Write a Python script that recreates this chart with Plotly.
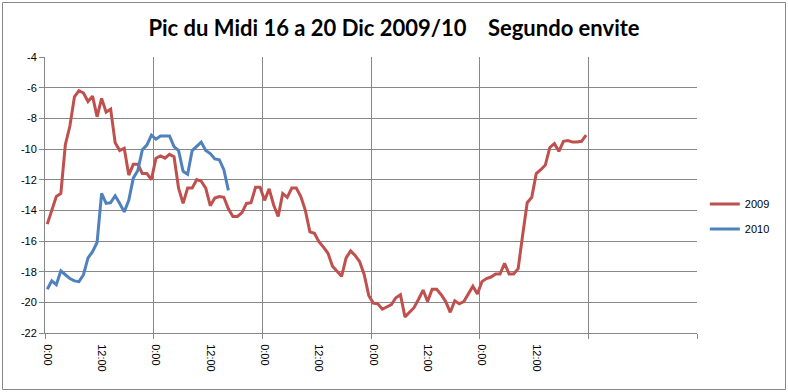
import plotly.graph_objects as go

# hourly readings, index = hour since 16 Dec 0:00
temp_2009 = [
    -14.9, -14.0, -13.1, -12.9, -9.7, -8.5, -6.6, -6.2, -6.35, -6.9,
    -6.55, -7.9, -6.7, -7.6, -7.4, -9.6, -10.1, -9.95, -11.7, -11.0,
    -11.0, -11.6, -11.6, -12.0, -10.6, -10.45, -10.6, -10.35, -10.5, -12.55,
    -13.55, -12.55, -12.55, -12.0, -12.1, -12.55, -13.7, -13.2, -13.1, -13.15,
    -13.9, -14.4, -14.4, -14.15, -13.55, -13.5, -12.5, -12.5, -13.35, -12.6,
    -13.65, -14.4, -12.9, -13.15, -12.55, -12.55, -13.1, -14.0, -15.4, -15.5,
    -16.05, -16.4, -16.8, -17.65, -17.95, -18.3, -17.1, -16.65, -16.95, -17.35,
    -18.2, -19.55, -20.05, -20.1, -20.45, -20.3, -20.15, -19.7, -19.5, -20.95,
    -20.65, -20.35, -19.8, -19.2, -19.95, -19.15, -19.15, -19.5, -19.95, -20.65,
    -19.9, -20.1, -19.95, -19.4, -18.95, -19.45, -18.65, -18.45, -18.35, -18.15,
    -18.15, -17.45, -18.15, -18.15, -17.8, -15.6, -13.5, -13.15, -11.6, -11.35,
    -11.05, -9.9, -9.65, -10.15, -9.5, -9.45, -9.55, -9.55, -9.5, -9.1,
]
temp_2010 = [
    -19.15, -18.6, -18.85, -17.95, -18.2, -18.45, -18.6, -18.65, -18.2, -17.1,
    -16.7, -16.1, -12.9, -13.55, -13.5, -13.05, -13.55, -14.1, -13.35, -11.9,
    -11.4, -10.05, -9.75, -9.1, -9.36, -9.15, -9.15, -9.15, -9.85, -10.1,
    -11.45, -11.65, -10.1, -9.85, -9.55, -10.1, -10.3, -10.65, -10.7, -11.35,
    -12.7,
]
tick_hours = [0, 12, 24, 36, 48, 60, 72, 84, 96, 108]
tick_labels = ["0:00", "12:00", "0:00", "12:00", "0:00", "12:00", "0:00", "12:00", "0:00", "12:00"]
day_bounds = [-0.5, 23.5, 47.5, 71.5, 95.5, 119.5, 143.5]
y_ticks = [-22, -20, -18, -16, -14, -12, -10, -8, -6, -4]
y_labels = ["-22", "-20", "-18", "-16", "-14", "-12", "-10", "-8", "-6", "-4"]

title = "Pic du Midi 16 a 20 Dic 2009/10\u00a0\u00a0\u00a0\u00a0Segundo envite"

grid = "#878787"
fig = go.Figure()
fig.add_trace(go.Scatter(x=list(range(len(temp_2009))), y=temp_2009, mode="lines",
                         name="2009", line=dict(color="#C0504D", width=3),
                         legendgroup="a"))
fig.add_trace(go.Scatter(x=list(range(len(temp_2010))), y=temp_2010, mode="lines",
                         name="2010", line=dict(color="#4F81BD", width=3),
                         legendgroup="b"))

fig.update_layout(
    width=788, height=392,
    margin=dict(l=45, r=91, t=57, b=59),
    paper_bgcolor="white", plot_bgcolor="white",
    title=dict(text=title, x=0.5, xanchor="center", xref="container", y=0.928, yanchor="middle",
               font=dict(family="Lato", size=22, color="black", weight="bold")),
    font=dict(family="Liberation Sans", size=11, color="black"),
    legend=dict(x=1.012, xanchor="left", y=0.422, yanchor="middle",
                traceorder="grouped", tracegroupgap=6,
                font=dict(family="Liberation Sans", size=11, color="black"),
                bgcolor="rgba(0,0,0,0)"),
    xaxis=dict(range=[-0.5, 143.5], tickmode="array", tickvals=tick_hours, ticktext=tick_labels,
               tickangle=90, ticks="", showgrid=False, zeroline=False,
               showline=True, linecolor=grid, linewidth=1,
               ticklabelstandoff=8,
               minor=dict(tickmode="array", tickvals=day_bounds, showgrid=True, gridcolor=grid,
                          gridwidth=1, ticks="outside", ticklen=5, tickcolor=grid)),
    yaxis=dict(range=[-22, -4], tickmode="array", tickvals=y_ticks, ticktext=y_labels,
               showgrid=True, gridcolor=grid, gridwidth=1,
               zeroline=False, showline=True, linecolor=grid, linewidth=1,
               ticks="outside", ticklen=5, tickcolor=grid),
    shapes=[dict(type="rect", xref="paper", yref="paper",
                 x0=(2.5 - 45) / 652, x1=(785.5 - 45) / 652,
                 y0=(333 - 389.5) / 276, y1=(333 - 2.5) / 276,
                 line=dict(color="#878787", width=1), fillcolor="rgba(0,0,0,0)", layer="below")],
)
fig.write_html("out.html", config={"displayModeBar": False},
               post_script="document.body.style.margin='0';")
